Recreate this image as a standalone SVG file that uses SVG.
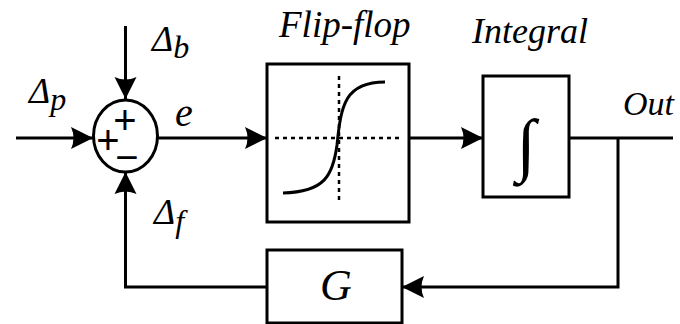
<svg xmlns="http://www.w3.org/2000/svg" width="680" height="324" viewBox="0 0 680 324">
<style>
.ln{fill:none;stroke:#000;stroke-width:3}
.bx{fill:#fff;stroke:#000;stroke-width:3}
.dash{fill:none;stroke:#000;stroke-width:2.5;stroke-dasharray:4 4}
.lbl{font-family:"Liberation Serif","Times New Roman",serif;font-style:italic;fill:#000}
.sgn{font-family:"Liberation Sans",Arial,sans-serif;fill:#000;text-anchor:middle}
</style>
<defs>
<marker id="ah" markerUnits="userSpaceOnUse" viewBox="-23 -12 24 24" refX="0" refY="0" markerWidth="24" markerHeight="24" orient="auto">
<path d="M0,0 L-22,-11 Q-17,0 -22,11 Z" fill="#000"/>
</marker>
</defs>
<rect width="680" height="324" fill="#fff"/>
<g id="connectors">
<path class="ln" d="M16,138 H93" marker-end="url(#ah)"/>
<path class="ln" d="M125.5,26 V99" marker-end="url(#ah)"/>
<path class="ln" d="M267,287 H125.5 V172" marker-end="url(#ah)"/>
<path class="ln" d="M158,138 H267" marker-end="url(#ah)"/>
<path class="ln" d="M409,138 H483" marker-end="url(#ah)"/>
<path class="ln" d="M569,138 H673"/>
<path class="ln" d="M618,138 V287 H402" marker-end="url(#ah)"/>
</g>
<g id="sum">
<ellipse cx="125.5" cy="136" rx="32" ry="36" class="bx"/>
<text class="sgn" x="125" y="134" font-size="40">+</text>
<text class="sgn" x="108" y="154" font-size="40">+</text>
<text class="sgn" x="127" y="171" font-size="40">−</text>
</g>
<g id="flipflop">
<rect x="267" y="64" width="142" height="158" class="bx"/>
<path class="dash" d="M275,138 H402"/>
<path class="dash" d="M339,76 V204"/>
<path class="ln" d="M283,193 C325,192 333,175 337,145 C341,105 345,82 385,82"/>
<text class="lbl" x="279" y="37" font-size="37">Flip-flop</text>
</g>
<g id="integral">
<rect x="483" y="76" width="86" height="121" class="bx"/>
<text class="lbl" x="526" y="168" font-size="70" text-anchor="middle">∫</text>
<text class="lbl" x="472" y="43" font-size="36">Integral</text>
</g>
<g id="gain">
<rect x="267" y="250" width="135" height="73" class="bx"/>
<text class="lbl" x="336" y="300" font-size="44" text-anchor="middle">G</text>
</g>
<g id="labels">
<text class="lbl" x="152" y="51" font-size="36">Δ<tspan font-size="32" dy="7">b</tspan></text>
<text class="lbl" x="29" y="103" font-size="36">Δ<tspan font-size="32" dy="7">p</tspan></text>
<text class="lbl" x="154" y="224" font-size="36">Δ<tspan font-size="32" dy="8">f</tspan></text>
<text class="lbl" x="175" y="126" font-size="40">e</text>
<text class="lbl" x="623" y="115" font-size="34">Out</text>
</g>
</svg>
